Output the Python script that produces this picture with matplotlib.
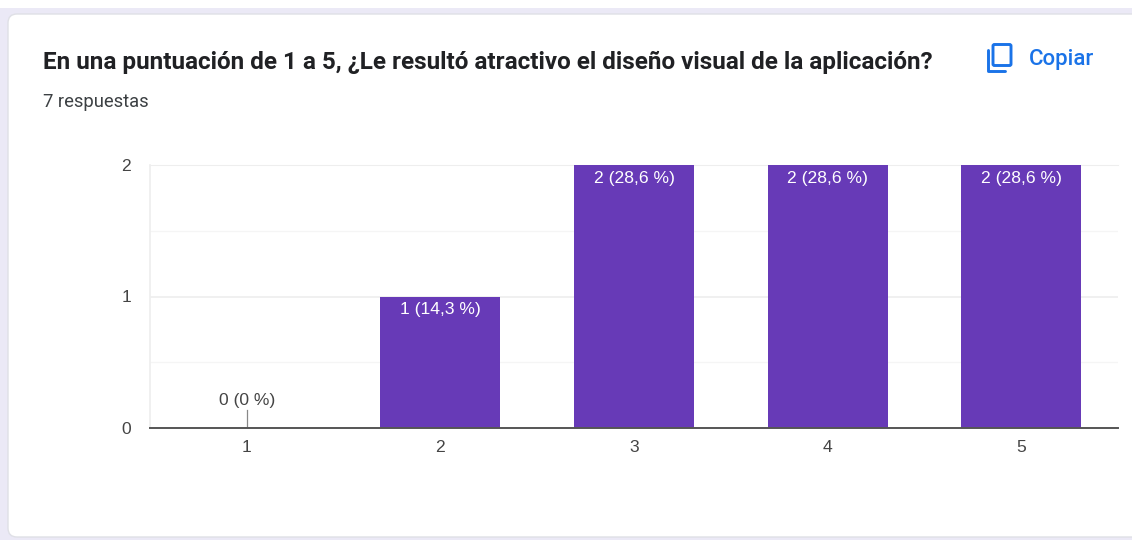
import matplotlib
matplotlib.use("Agg")
import matplotlib.pyplot as plt
from matplotlib.patches import FancyBboxPatch, Rectangle
from matplotlib.lines import Line2D

title = "En una puntuación de 1 a 5, ¿Le resultó atractivo el diseño visual de la aplicación?"
subtitle = "7 respuestas"
action = "Copiar"
categories = ["1", "2", "3", "4", "5"]
counts = [0, 1, 2, 2, 2]
labels = ["0 (0 %)", "1 (14,3 %)", "2 (28,6 %)", "2 (28,6 %)", "2 (28,6 %)"]
major_ticks = [0, 1, 2]
minor_ticks = [0.5, 1.5]

W, H = 1132, 540
BAR = "#673ab7"
GRID = "#eeeeee"
MINOR = "#f5f5f5"
TXT = "#444444"
BLUE = "#1a73e8"
FS = 12.6

fig = plt.figure(figsize=(W / 100, H / 100), dpi=100, facecolor="#ffffff")
bg = fig.add_axes([0, 0, 1, 1], zorder=0)
bg.set_xlim(0, W)
bg.set_ylim(H, 0)
bg.axis("off")
bg.add_patch(Rectangle((0, 8), W, H - 8, fc="#ebe9f6", ec="none"))
bg.add_patch(FancyBboxPatch((8, 14), W + 40, 523, boxstyle="round,pad=0,rounding_size=9",
                            fc="#ffffff", ec="#dfe0e6", lw=1))

bg.text(43, 62, title, family="Roboto", weight="bold", fontsize=17.45, color="#202124", va="center", ha="left")
bg.text(43, 102, subtitle, family="Roboto", fontsize=13.2, color="#3c4043", va="center", ha="left")
bg.text(1029, 59, action, family="Roboto", weight="medium", fontsize=16, color=BLUE, va="center", ha="left")

# copy icon
bg.add_patch(FancyBboxPatch((993, 44.5), 18, 21, boxstyle="round,pad=0,rounding_size=1.5",
                            fc="none", ec=BLUE, lw=2.1))
bg.add_line(Line2D([987.5, 987.5, 1005], [50, 71, 71], color=BLUE, lw=2.1, solid_capstyle="round"))

ax = fig.add_axes([150 / W, 1 - 428 / H, (1118 - 150) / W, (428 - 165) / H], zorder=1)
ax.patch.set_alpha(0)
xs = list(range(1, len(categories) + 1))
ax.bar(xs, counts, width=0.62, color=BAR, zorder=3)
ax.set_xlim(0.5, 5.5)
ax.set_ylim(0, 2)
ax.set_xticks(xs, categories)
ax.set_yticks(major_ticks)
ax.set_yticks(minor_ticks, minor=True)
ax.grid(True, axis="y", which="major", color=GRID, lw=1.2, zorder=0)
ax.grid(True, axis="y", which="minor", color=MINOR, lw=1, zorder=0)
ax.tick_params(axis="both", which="both", length=0)
ax.tick_params(axis="x", pad=8.5, labelsize=FS, labelcolor=TXT)
ax.tick_params(axis="y", pad=13.5, labelsize=FS, labelcolor=TXT)
for lab in ax.get_xticklabels() + ax.get_yticklabels():
    lab.set_family("Liberation Sans")
ax.spines["right"].set_visible(False)
ax.spines["left"].set_color(GRID)
ax.spines["left"].set_linewidth(1.2)
ax.spines["bottom"].set_color("#555555")
ax.spines["bottom"].set_linewidth(1.4)
ax.spines["bottom"].set_zorder(5)
ax.spines["top"].set_color(GRID)

for x, c, lab in zip(xs, counts, labels):
    if c == 0:
        ax.plot([x, x], [0, 0.135], color="#888888", lw=0.9, zorder=4)
        ax.annotate(lab, (x, 0), xytext=(0, 27), textcoords="offset pixels", ha="center", va="center",
                    family="Liberation Sans", fontsize=FS, color=TXT)
    else:
        ax.annotate(lab, (x, c), xytext=(0, -13), textcoords="offset pixels", ha="center", va="center",
                    family="Liberation Sans", fontsize=FS, color="#ffffff", zorder=6)

fig.savefig("out.png", dpi=100, facecolor=fig.get_facecolor())
